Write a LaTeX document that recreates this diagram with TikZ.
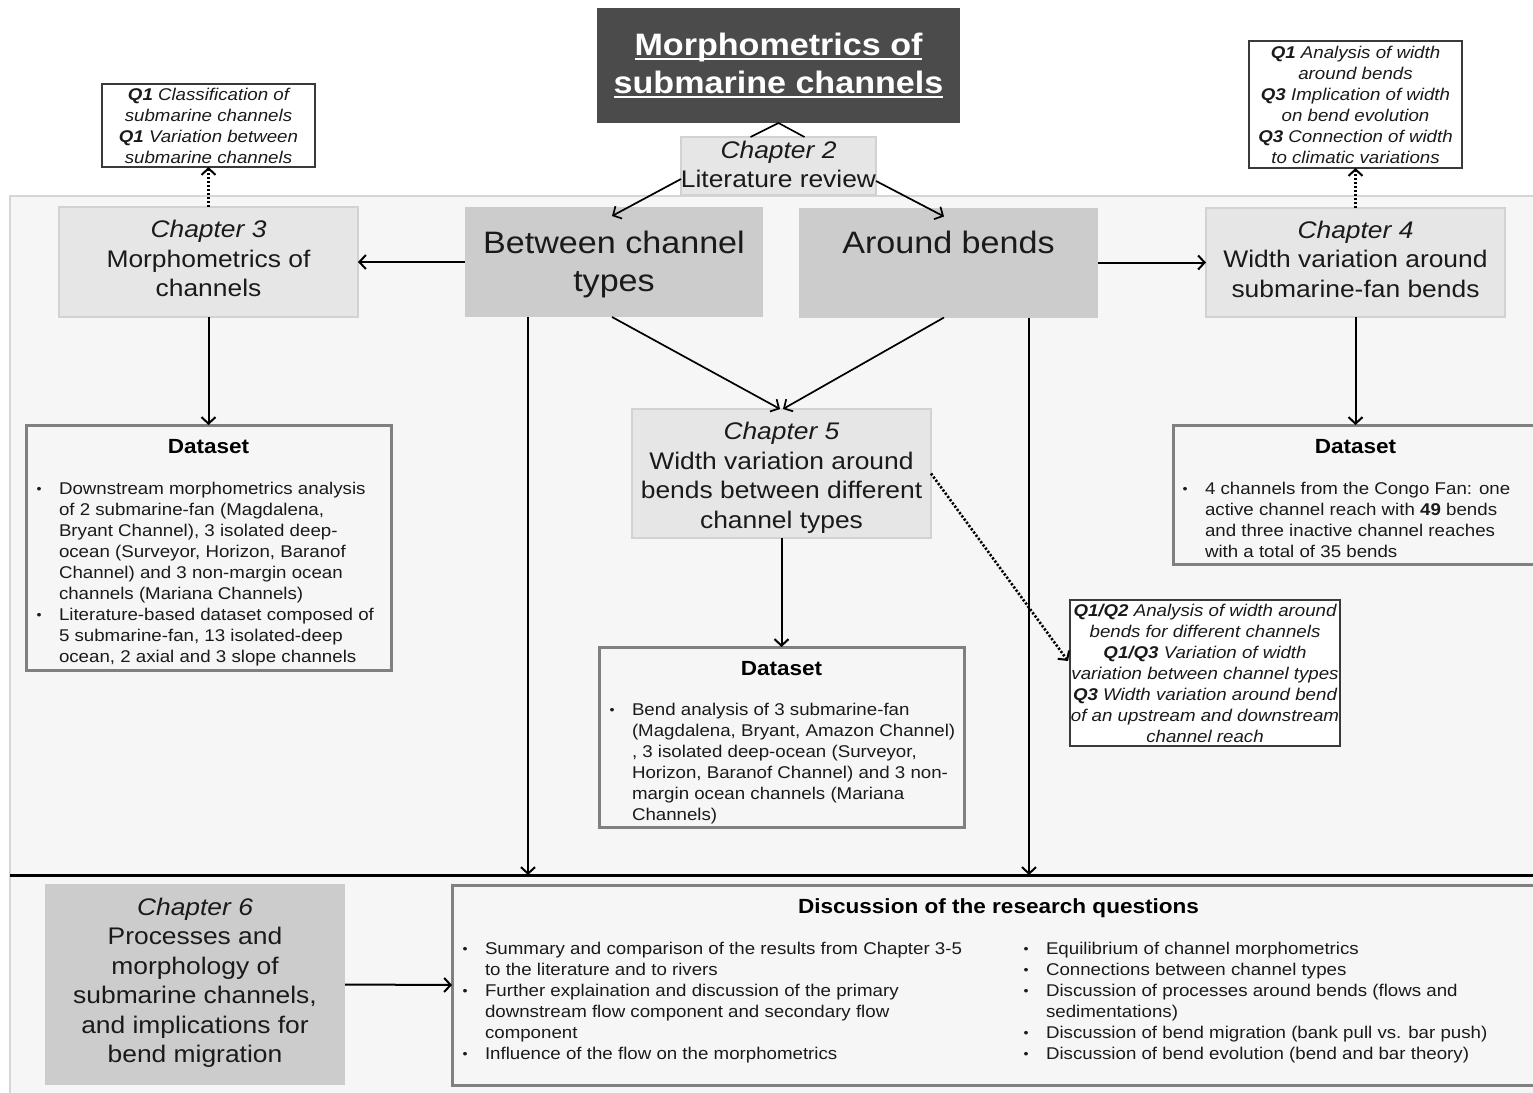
\documentclass[tikz,border=0pt]{standalone}
\usepackage{fontspec}
\setmainfont{Liberation Sans}[FakeStretch=1.1]
\usetikzlibrary{arrows.meta}

\definecolor{titleFill}{HTML}{4B4B4B}
\definecolor{lightFill}{HTML}{E6E6E6}
\definecolor{lightEdge}{HTML}{D2D2D2}
\definecolor{darkFill}{HTML}{CCCCCC}
\definecolor{panelFill}{HTML}{F6F6F6}
\definecolor{panelEdge}{HTML}{D6D6D6}
\definecolor{dsEdge}{HTML}{808080}
\definecolor{qEdge}{HTML}{3A3A3A}
\definecolor{bodyText}{HTML}{1A1A1A}

\newcommand\fTitle{\fontsize{31}{38}\selectfont\bfseries}
\newcommand\fBig{\fontsize{31}{38}\selectfont}
\newcommand\fChap{\fontsize{24}{29.5}\selectfont}
\newcommand\fSmall{\fontsize{17}{21}\selectfont}
\newcommand\fHead{\fontsize{20.5}{24}\selectfont\bfseries}
\newcommand\qq[1]{\textbf{#1}}
\newcommand\bul{\makebox[24pt][l]{\kern1.5pt\raisebox{1pt}{\fontsize{13}{13}\selectfont\textbullet}}}
\newcommand\ind{\hspace*{24pt}}
% thick underline set below the baseline
\newlength\ulw
\newcommand\uline[1]{\settowidth\ulw{#1}\leavevmode\rlap{\rule[-5pt]{\ulw}{2pt}}#1}

\begin{document}
\begin{tikzpicture}[x=1pt,y=-1pt,
  every node/.style={inner sep=0pt, outer sep=0pt, text=bodyText},
  titlebox/.style={fill=titleFill, text=white, align=center, font=\fTitle},
  lightbox/.style={fill=lightFill, draw=lightEdge, line width=1.2pt},
  darkbox/.style={fill=darkFill},
  chaptext/.style={align=center, font=\fChap},
  bigtext/.style={align=center, font=\fBig},
  qbox/.style={fill=white, draw=qEdge, line width=1.2pt, align=center, font=\fSmall\itshape},
  dsbox/.style={fill=panelFill, draw=dsEdge, line width=3pt},
  dshead/.style={font=\fHead, text=black},
  dsbody/.style={font=\fSmall, align=left, anchor=north west},
  arr/.style={-{Straight Barb[length=6.5pt,width=14pt,line width=2pt]}, line width=2pt},
  thinarr/.style={-{Straight Barb[length=6.5pt,width=14pt,line width=1.7pt]}, line width=1.7pt},
  dotarr/.style={-{Straight Barb[length=6.5pt,width=14pt,line width=2pt]}, line width=2.6pt, dash pattern=on 2.2pt off 1.8pt}]

\useasboundingbox (0,0) rectangle (1533,1092);
\fill[white] (0,0) rectangle (1533,1092);

% shaded working area and separator
\path[fill=panelFill, draw=panelEdge, line width=2pt] (10,196) rectangle (1545,1100);
\coordinate (sepW) at (10,875);
\coordinate (sepE) at (1545,875);
\draw[line width=3pt] (sepW) -- (sepE);

% title and literature review
\node[titlebox, minimum width=363pt, minimum height=115pt] (title) at (778.5,65.5)
  {\raisebox{3pt}{\uline{Morphometrics of}}\\\raisebox{3pt}{\uline{submarine channels}}};
\node[lightbox, minimum width=195pt, minimum height=58pt] (ch2) at (778.5,166) {};
\node[chaptext] (ch2t) at (778.5,164.5) {\textit{Chapter 2}\\Literature review};

% main branches
\node[darkbox, minimum width=298pt, minimum height=110pt] (between) at (614,262) {};
\node[bigtext] (betweent) at (614,264) {Between channel\\types};
\node[darkbox, minimum width=299pt, minimum height=110pt] (around) at (948.5,262.5) {};
\node[bigtext] (aroundt) at (948.5,266.5) {Around bends\\\strut};

\node[lightbox, minimum width=299pt, minimum height=110pt] (ch3) at (208.5,262) {};
\node[chaptext] (ch3t) at (208.5,258.5) {\textit{Chapter 3}\\Morphometrics of\\channels};
\node[lightbox, minimum width=299pt, minimum height=109pt] (ch4) at (1355.5,262.5) {};
\node[chaptext] (ch4t) at (1355.5,259) {\textit{Chapter 4}\\Width variation around\\submarine-fan bends};
\node[lightbox, minimum width=299pt, minimum height=129pt] (ch5) at (781.5,473.5) {};
\node[chaptext] (ch5t) at (781.5,478) {\textit{Chapter 5}\\Width variation around\\bends between different\\channel types};
\node[darkbox, minimum width=300pt, minimum height=201pt] (ch6) at (195,984.5) {};
\node[chaptext] (ch6t) at (195,983) {\textit{Chapter 6}\\Processes and\\morphology of\\submarine channels,\\and implications for\\bend migration};

% research questions
\node[qbox, minimum width=213pt, minimum height=83pt] (qA) at (208.5,125.5)
  {\qq{Q1} Classification of\\submarine channels\\\qq{Q1} Variation between\\submarine channels};
\node[qbox, minimum width=213pt, minimum height=127pt] (qB) at (1355.5,104.5)
  {\qq{Q1} Analysis of width\\around bends\\\qq{Q3} Implication of width\\on bend evolution\\\qq{Q3} Connection of width\\to climatic variations};
\node[qbox, minimum width=270pt, minimum height=146pt] (qC) at (1205,673)
  {\qq{Q1/Q2} Analysis of width around\\bends for different channels\\\qq{Q1/Q3} Variation of width\\variation between channel types\\\qq{Q3} Width variation around bend\\of an upstream and downstream\\channel reach};

% datasets
\node[dsbox, minimum width=365pt, minimum height=245pt] (dsA) at (208.5,547.5) {};
\node[dshead] (dsAh) at (208.5,447) {Dataset};
\node[dsbody] (dsAb) at (35,482)
  {\bul Downstream morphometrics analysis\\
   \ind of 2 submarine-fan (Magdalena,\\
   \ind Bryant Channel), 3 isolated deep-\\
   \ind ocean (Surveyor, Horizon, Baranof\\
   \ind Channel) and 3 non-margin ocean\\
   \ind channels (Mariana Channels)\\
   \bul Literature-based dataset composed of\\
   \ind 5 submarine-fan, 13 isolated-deep\\
   \ind ocean, 2 axial and 3 slope channels};

\node[dsbox, minimum width=365pt, minimum height=180pt] (dsB) at (781.5,737) {};
\node[dshead] (dsBh) at (781.5,669) {Dataset};
\node[dsbody] (dsBb) at (608,703.5)
  {\bul Bend analysis of 3 submarine-fan\\
   \ind (Magdalena, Bryant, Amazon Channel)\\
   \ind , 3 isolated deep-ocean (Surveyor,\\
   \ind Horizon, Baranof Channel) and 3 non-\\
   \ind margin ocean channels (Mariana\\
   \ind Channels)};

\node[dsbox, minimum width=365pt, minimum height=139pt] (dsC) at (1355.5,494.5) {};
\node[dshead] (dsCh) at (1355.5,447) {Dataset};
\node[dsbody] (dsCb) at (1181,482)
  {\bul 4 channels from the Congo Fan: one\\
   \ind active channel reach with \textbf{49} bends\\
   \ind and three inactive channel reaches\\
   \ind with a total of 35 bends};

% discussion
\node[dsbox, minimum width=1093pt, minimum height=200pt] (disc) at (998.5,985) {};
\node[dshead] (disch) at (998.5,908) {Discussion of the research questions};
\node[dsbody] (discL) at (461,942)
  {\bul Summary and comparison of the results from Chapter 3-5\\
   \ind to the literature and to rivers\\
   \bul Further explaination and discussion of the primary\\
   \ind downstream flow component and secondary flow\\
   \ind component\\
   \bul Influence of the flow on the morphometrics};
\node[dsbody] (discR) at (1022,942)
  {\bul Equilibrium of channel morphometrics\\
   \bul Connections between channel types\\
   \bul Discussion of processes around bends (flows and\\
   \ind sedimentations)\\
   \bul Discussion of bend migration (bank pull vs. bar push)\\
   \bul Discussion of bend evolution (bend and bar theory)};

% connectors
\draw[line width=1.6pt] ([xshift=-28pt]ch2.north) -- (title.south) -- ([xshift=26pt]ch2.north);
\draw[thinarr] ([yshift=-13pt]ch2.west) -- ([xshift=-2pt,yshift=-9pt]between.north);
\draw[thinarr] ([yshift=-15pt]ch2.east) -- ([xshift=-4.5pt,yshift=-9pt]around.north);

\draw[arr] (between.west) -- (ch3.east);
\draw[arr] (around.east) -- (ch4.west);

\draw[dotarr] (ch3.north) -- (qA.south);
\draw[dotarr] (ch4.north) -- (qB.south);

\draw[arr] (ch3.south) -- (dsA.north);
\draw[arr] (ch4.south) -- (dsC.north);

\draw[thinarr] ([xshift=-2pt]between.south) -- ([xshift=-1.5pt]ch5.north);
\draw[thinarr] ([xshift=-4.5pt]around.south) -- ([xshift=1.5pt]ch5.north);

\draw[dotarr] (ch5.east) -- ([xshift=-2pt,yshift=12pt]qC.west);
\draw[arr] (ch5.south) -- (dsB.north);

\coordinate (dropL) at (528,875);
\coordinate (dropR) at (1029,875);
\draw[arr] (between.south -| dropL) -- (dropL);
\draw[arr] (around.south -| dropR) -- (dropR);

\draw[arr] (ch6.east) -- (disc.west);

\end{tikzpicture}
\end{document}
